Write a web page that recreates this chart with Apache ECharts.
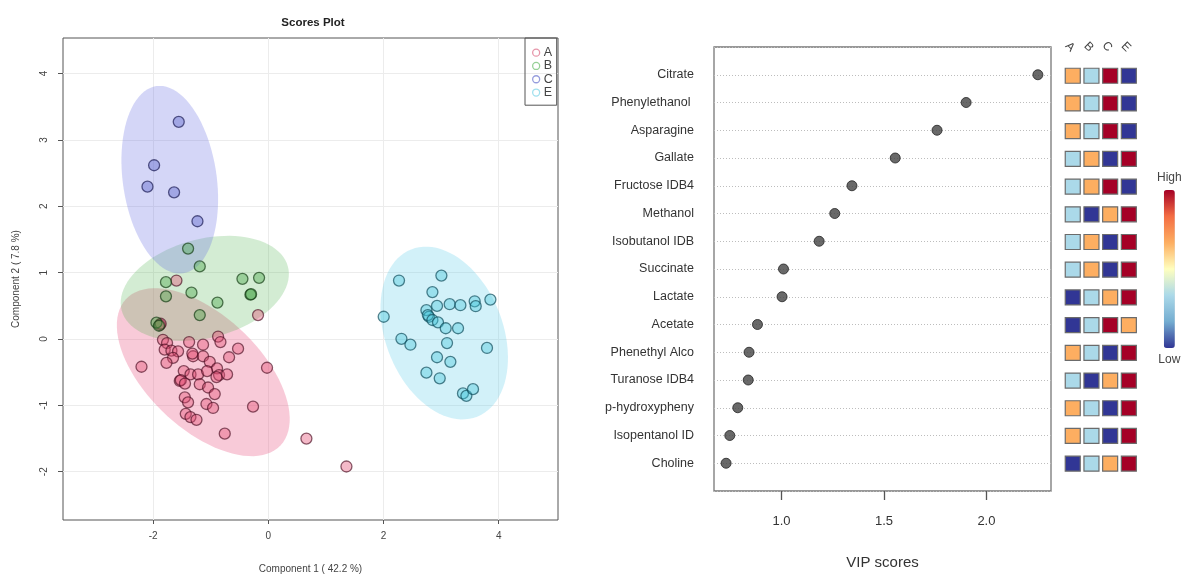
<!DOCTYPE html>
<html>
<head>
<meta charset="utf-8">
<script src="https://cdn.jsdelivr.net/npm/echarts@6/dist/echarts.min.js"></script>
<style>
html,body{margin:0;padding:0;background:#fff;}
#chart{width:1194px;height:579px;}
</style>
</head>
<body>
<div id="chart"></div>
<script>
// ---------- Scores plot data ----------
const groups = ['A', 'B', 'C', 'E'];
const scoresA = [[-1.596,0.881],[-0.179,0.360],[-1.885,0.211],[-1.87,0.23],[-1.83,-0.012],[-1.759,-0.061],[-1.8,-0.161],
  [-1.683,-0.176],[-1.568,-0.186],[-1.655,-0.284],[-1.769,-0.359],[-2.203,-0.418],[-1.376,-0.046],[-1.307,-0.26],
  [-1.32,-0.22],[-1.134,-0.086],[-1.134,-0.26],[-0.873,0.037],[-0.832,-0.046],[-0.526,-0.146],[-0.682,-0.275],
  [-1.017,-0.344],[-0.023,-0.433],[-1.469,-0.483],[-1.352,-0.533],[-1.22,-0.533],[-0.891,-0.443],[-0.856,-0.543],
  [-0.717,-0.533],[-1.064,-0.483],[-1.538,-0.632],[-1.52,-0.62],[-1.448,-0.671],[-1.191,-0.682],[-0.901,-0.573],
  [-1.047,-0.731],[-0.931,-0.830],[-1.451,-0.88],[-1.394,-0.954],[-1.075,-0.979],[-0.96,-1.039],[-1.434,-1.128],
  [-1.353,-1.177],[-1.248,-1.217],[-0.266,-1.019],[-0.757,-1.426],[0.661,-1.5],[1.356,-1.921]];
const scoresB = [[-1.394,1.362],[-1.191,1.094],[-1.778,0.856],[-0.45,0.906],[-0.161,0.921],[-1.778,0.643],
  [-1.335,0.698],[-0.884,0.549],[-0.311,0.668],[-0.30,0.675],[-1.191,0.360],[-1.943,0.246],[-1.90,0.20]];
const scoresC = [[-1.556,3.272],[-1.984,2.618],[-2.099,2.295],[-1.637,2.210],[-1.231,1.774]];
const scoresE = [[2.269,0.881],[3.005,0.955],[2.849,0.707],[2.003,0.335],[2.745,0.435],[2.929,0.499],[3.149,0.524],
  [3.335,0.509],[3.583,0.568],[3.601,0.494],[3.856,0.594],[2.79,0.335],[2.77,0.36],[2.849,0.286],[2.946,0.251],
  [3.08,0.162],[3.294,0.162],[2.311,0.003],[2.467,-0.086],[3.103,-0.061],[3.797,-0.135],[2.929,-0.275],
  [3.161,-0.344],[2.745,-0.507],[2.976,-0.592],[3.38,-0.82],[3.439,-0.856],[3.554,-0.756]];
// confidence ellipse shape parameters (centre, two semi-axis vectors), in data units
const ellipseCenters = [[-1.130,-0.50],[-1.104,0.762],[-1.712,2.40],[3.054,0.09]];
const ellipseAxisU   = [[1.344,-1.10],[1.443,0.332],[-0.231,1.41],[0.573,-1.26]];
const ellipseAxisV   = [[-0.669,-0.625],[0.225,-0.719],[0.807,0.10],[-0.947,-0.326]];
const scoreXTicks = [-2, 0, 2, 4];
const scoreYTicks = [-2, -1, 0, 1, 2, 3, 4];

// ---------- VIP data ----------
const vipNames = ['Citrate','Phenylethanol ','Asparagine','Gallate','Fructose IDB4','Methanol','Isobutanol IDB',
  'Succinate','Lactate','Acetate','Phenethyl Alco','Turanose IDB4','p-hydroxypheny','Isopentanol ID','Choline'];
const vipScores = [2.251,1.901,1.759,1.555,1.344,1.260,1.184,1.010,1.003,0.883,0.842,0.838,0.787,0.748,0.730];
const vipXTicks = [1.0, 1.5, 2.0];
// relative concentration level per group (1 = low ... 4 = high)
const heatGroups = ['A', 'B', 'C', 'E'];
const levelA = [3,3,3,2,2,2,2,2,1,1,3,2,3,3,1];
const levelB = [2,2,2,3,3,1,3,3,2,2,2,1,2,2,2];
const levelC = [4,4,4,1,4,3,1,1,3,4,1,3,1,1,3];
const levelE = [1,1,1,4,1,4,4,4,4,3,4,4,4,4,4];

const FONT = "'Liberation Sans', Arial, sans-serif";
const fillCol   = ['rgba(228,80,118,0.5)','rgba(70,165,70,0.5)','rgba(95,105,205,0.55)','rgba(70,200,220,0.5)'];
const borderCol = ['rgba(70,10,30,0.8)','rgba(20,60,20,0.85)','rgba(25,25,80,0.85)','rgba(15,75,90,0.85)'];
const ellipseCol = ['rgba(232,80,125,0.30)','rgba(70,175,70,0.24)','rgba(95,105,225,0.27)','rgba(80,200,230,0.26)'];
const legendCol = ['#e07a94','#7cc47c','#7c84d4','#8ad8ea'];
const scoreSets = [scoresA, scoresB, scoresC, scoresE];

const series = [];
groups.forEach((g, i) => {
  series.push({
    type: 'custom', name: g + ' region', xAxisIndex: 0, yAxisIndex: 0, silent: true, z: 1,
    data: [ellipseCenters[i]],
    renderItem: function (params, api) {
      const c = ellipseCenters[i], u = ellipseAxisU[i], v = ellipseAxisV[i];
      const pts = [];
      for (let k = 0; k <= 90; k++) {
        const t = k / 90 * Math.PI * 2;
        pts.push(api.coord([c[0] + u[0]*Math.cos(t) + v[0]*Math.sin(t),
                            c[1] + u[1]*Math.cos(t) + v[1]*Math.sin(t)]));
      }
      return { type: 'polygon', shape: { points: pts }, style: { fill: ellipseCol[i], stroke: null } };
    }
  });
});
groups.forEach((g, i) => {
  series.push({
    type: 'scatter', name: g, xAxisIndex: 0, yAxisIndex: 0, z: 3,
    symbolSize: 11, data: scoreSets[i],
    itemStyle: { color: fillCol[i], borderColor: borderCol[i], borderWidth: 1.3 }
  });
});
series.push({
  type: 'scatter', name: 'VIP', xAxisIndex: 1, yAxisIndex: 1, symbolSize: 10, z: 3,
  data: vipScores.map((v, i) => [v, i + 1]),
  itemStyle: { color: '#444', borderColor: '#222', borderWidth: 1 }
});
const levels = [levelA, levelB, levelC, levelE];
const heatData = [];
levels.forEach((arr, c) => arr.forEach((lv, r) => heatData.push([c, r, lv])));
series.push({
  type: 'scatter', name: 'heat', xAxisIndex: 2, yAxisIndex: 2, symbol: 'rect', symbolSize: 15,
  data: heatData, itemStyle: { borderColor: '#6b6b6b', borderWidth: 1.2, opacity: 1 }
});

const option = {
  animation: false,
  backgroundColor: '#fff',
  textStyle: { fontFamily: FONT },
  title: {
    text: 'Scores Plot', left: 308, top: 12, textAlign: 'center',
    textStyle: { fontFamily: FONT, fontSize: 11.5, fontWeight: 'bold', color: '#222' }
  },
  legend: {
    data: groups.map((g, i) => ({ name: g, icon: 'circle',
      itemStyle: { color: '#fff', borderColor: legendCol[i], borderWidth: 1.3 } })),
    orient: 'vertical', left: 525, top: 38, itemWidth: 7, itemHeight: 7, itemGap: 0,
    padding: [8, 4, 6, 7], borderColor: '#555', borderWidth: 1, selectedMode: false,
    textStyle: { fontFamily: FONT, fontSize: 12.5, color: '#444', lineHeight: 13.3, padding: [0, 0, 0, -1] }
  },
  grid: [
    { left: 63, top: 38, width: 495, height: 489, show: true, borderColor: '#555', borderWidth: 1, backgroundColor: 'transparent' },
    { left: 714, top: 47, width: 337, height: 444, show: true, borderColor: '#777', borderWidth: 1.3, backgroundColor: 'transparent' },
    { left: 1063.4, top: 61.9, width: 74.8, height: 415.6 }
  ],
  xAxis: [
    { type: 'value', gridIndex: 0, min: -3.566, max: 5.03,
      name: 'Component 1 ( 42.2 %)', nameLocation: 'middle', nameGap: 44,
      nameTextStyle: { fontFamily: FONT, fontSize: 10, color: '#444' },
      axisLine: { show: false, onZero: false },
      axisTick: { show: true, length: 4, customValues: scoreXTicks, lineStyle: { color: '#555' } },
      axisLabel: { customValues: scoreXTicks, margin: 11, fontSize: 10, color: '#444', fontFamily: FONT },
      splitLine: { show: true, lineStyle: { color: '#ececec', width: 1 } } },
    { type: 'value', gridIndex: 1, min: 0.671, max: 2.315,
      name: 'VIP scores', nameLocation: 'middle', nameGap: 64,
      nameTextStyle: { fontFamily: FONT, fontSize: 15, color: '#333' },
      axisLine: { show: false, onZero: false },
      axisTick: { show: true, length: 9, customValues: vipXTicks, lineStyle: { color: '#555', width: 1.3 } },
      axisLabel: { customValues: vipXTicks, margin: 24, fontSize: 13, color: '#333', fontFamily: FONT,
        formatter: v => v.toFixed(1) },
      splitLine: { show: false } },
    { type: 'category', gridIndex: 2, data: heatGroups, position: 'top',
      axisLine: { show: false }, axisTick: { show: false },
      axisLabel: { rotate: 45, margin: 12, fontSize: 12, color: '#444', fontFamily: FONT },
      splitLine: { show: false } }
  ],
  yAxis: [
    { type: 'value', gridIndex: 0, min: -2.727, max: 4.535,
      name: 'Component 2 ( 7.8 %)', nameLocation: 'middle', nameGap: 42, nameRotate: 90,
      nameTextStyle: { fontFamily: FONT, fontSize: 10, color: '#444' },
      axisLine: { show: false, onZero: false },
      axisTick: { show: true, length: 5, customValues: scoreYTicks, lineStyle: { color: '#555' } },
      axisLabel: { customValues: scoreYTicks, rotate: 90, margin: 14, fontSize: 10, color: '#444', fontFamily: FONT },
      splitLine: { show: true, lineStyle: { color: '#ececec', width: 1 } } },
    { type: 'value', gridIndex: 1, min: 0, max: 16, interval: 1, inverse: true,
      axisLine: { show: false, onZero: false }, axisTick: { show: false },
      axisLabel: { margin: 20, fontSize: 12.5, color: '#333', fontFamily: FONT,
        formatter: v => (v >= 1 && v <= vipNames.length) ? vipNames[v - 1] : '' },
      splitLine: { show: true, lineStyle: { color: '#bdbdbd', type: [1, 2], width: 1 } } },
    { type: 'category', gridIndex: 2, data: vipNames, inverse: true, show: false }
  ],
  visualMap: {
    type: 'continuous', seriesIndex: 9, dimension: 2, min: 1, max: 4, calculable: false,
    inRange: { color: ['#313695','#74add1','#abd9e9','#ffffbf','#fdae61','#f46d43','#a50026'] },
    left: 1157, top: 172, padding: 0, itemWidth: 11, itemHeight: 158, text: ['High', 'Low'], textGap: 6,
    textStyle: { fontFamily: FONT, fontSize: 12, color: '#444' }
  },
  series: series
};
const chart = echarts.init(document.getElementById('chart'), null, { renderer: 'canvas' });
chart.setOption(option);
</script>
</body>
</html>
